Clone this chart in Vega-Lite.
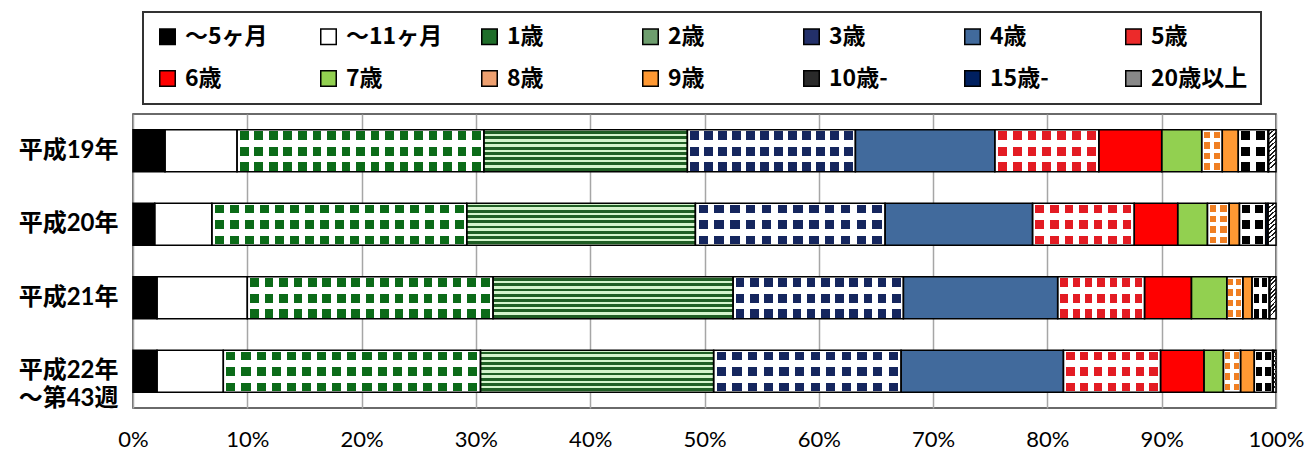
{
  "$schema": "https://vega.github.io/schema/vega-lite/v6.json",
  "width": 1143,
  "height": 294,
  "autosize": {"type": "none"},
  "padding": {"left": 133, "top": 114, "right": 33, "bottom": 55},
  "background": "#ffffff",
  "config": {
    "view": {"stroke": "#3a3a3a", "strokeWidth": 1.5},
    "legend": {"strokeWidth": 2}
  },
  "data": {
    "values": [
      {"year": "平成19年", "age": "～5ヶ月", "value": 2.8},
      {"year": "平成19年", "age": "～11ヶ月", "value": 6.3},
      {"year": "平成19年", "age": "1歳", "value": 21.6},
      {"year": "平成19年", "age": "2歳", "value": 17.8},
      {"year": "平成19年", "age": "3歳", "value": 14.7},
      {"year": "平成19年", "age": "4歳", "value": 12.2},
      {"year": "平成19年", "age": "5歳", "value": 9.1},
      {"year": "平成19年", "age": "6歳", "value": 5.5},
      {"year": "平成19年", "age": "7歳", "value": 3.5},
      {"year": "平成19年", "age": "8歳", "value": 1.8},
      {"year": "平成19年", "age": "9歳", "value": 1.4},
      {"year": "平成19年", "age": "10歳-", "value": 2.6},
      {"year": "平成19年", "age": "15歳-", "value": 0.05},
      {"year": "平成19年", "age": "20歳以上", "value": 0.65},
      {"year": "平成20年", "age": "～5ヶ月", "value": 1.9},
      {"year": "平成20年", "age": "～11ヶ月", "value": 5.0},
      {"year": "平成20年", "age": "1歳", "value": 22.3},
      {"year": "平成20年", "age": "2歳", "value": 20.0},
      {"year": "平成20年", "age": "3歳", "value": 16.6},
      {"year": "平成20年", "age": "4歳", "value": 12.9},
      {"year": "平成20年", "age": "5歳", "value": 8.9},
      {"year": "平成20年", "age": "6歳", "value": 3.8},
      {"year": "平成20年", "age": "7歳", "value": 2.6},
      {"year": "平成20年", "age": "8歳", "value": 1.9},
      {"year": "平成20年", "age": "9歳", "value": 0.9},
      {"year": "平成20年", "age": "10歳-", "value": 2.3},
      {"year": "平成20年", "age": "15歳-", "value": 0.2},
      {"year": "平成20年", "age": "20歳以上", "value": 0.7},
      {"year": "平成21年", "age": "～5ヶ月", "value": 2.1},
      {"year": "平成21年", "age": "～11ヶ月", "value": 7.9},
      {"year": "平成21年", "age": "1歳", "value": 21.5},
      {"year": "平成21年", "age": "2歳", "value": 21.0},
      {"year": "平成21年", "age": "3歳", "value": 14.9},
      {"year": "平成21年", "age": "4歳", "value": 13.5},
      {"year": "平成21年", "age": "5歳", "value": 7.6},
      {"year": "平成21年", "age": "6歳", "value": 4.1},
      {"year": "平成21年", "age": "7歳", "value": 3.1},
      {"year": "平成21年", "age": "8歳", "value": 1.4},
      {"year": "平成21年", "age": "9歳", "value": 0.8},
      {"year": "平成21年", "age": "10歳-", "value": 1.5},
      {"year": "平成21年", "age": "15歳-", "value": 0.05},
      {"year": "平成21年", "age": "20歳以上", "value": 0.55},
      {"year": "平成22年 ～第43週", "age": "～5ヶ月", "value": 2.1},
      {"year": "平成22年 ～第43週", "age": "～11ヶ月", "value": 5.8},
      {"year": "平成22年 ～第43週", "age": "1歳", "value": 22.5},
      {"year": "平成22年 ～第43週", "age": "2歳", "value": 20.4},
      {"year": "平成22年 ～第43週", "age": "3歳", "value": 16.4},
      {"year": "平成22年 ～第43週", "age": "4歳", "value": 14.2},
      {"year": "平成22年 ～第43週", "age": "5歳", "value": 8.5},
      {"year": "平成22年 ～第43週", "age": "6歳", "value": 3.8},
      {"year": "平成22年 ～第43週", "age": "7歳", "value": 1.7},
      {"year": "平成22年 ～第43週", "age": "8歳", "value": 1.5},
      {"year": "平成22年 ～第43週", "age": "9歳", "value": 1.2},
      {"year": "平成22年 ～第43週", "age": "10歳-", "value": 1.6},
      {"year": "平成22年 ～第43週", "age": "15歳-", "value": 0.05},
      {"year": "平成22年 ～第43週", "age": "20歳以上", "value": 0.25}
    ]
  },
  "transform": [
    {"stack": "value", "groupby": ["year"], "offset": "normalize", "as": ["v0", "v1"]}
  ],
  "encoding": {
    "y": {
      "field": "year",
      "type": "nominal",
      "sort": null,
      "title": null,
      "scale": {"paddingInner": 0.43, "paddingOuter": 0.215},
      "axis": {
        "domain": false,
        "ticks": false,
        "labelPadding": 15,
        "labelFont": "Lato, Noto Sans CJK JP",
        "labelFontWeight": "bold",
        "labelFontSize": 24,
        "labelColor": "#000000",
        "labelLineHeight": 28,
        "labelLimit": 200,
        "labelExpr": "split(datum.label, ' ')"
      }
    },
    "x": {
      "field": "v0",
      "type": "quantitative",
      "title": null,
      "scale": {"domain": [0, 1], "nice": false, "zero": true},
      "axis": {
        "values": [0, 0.1, 0.2, 0.3, 0.4, 0.5, 0.6, 0.7, 0.8, 0.9, 1],
        "format": ".0%",
        "domain": false,
        "ticks": false,
        "grid": true,
        "gridColor": "#a6a6a6",
        "gridWidth": 1.5,
        "labelPadding": 21,
        "labelFont": "Lato",
        "labelFontSize": 22,
        "labelColor": "#000000",
        "labelFlush": false
      }
    },
    "x2": {"field": "v1"}
  },
  "layer": [
    {
      "mark": {"type": "bar", "opacity": 1},
      "encoding": {
        "color": {
          "field": "age",
          "type": "nominal",
          "scale": {
            "domain": ["～5ヶ月", "～11ヶ月", "1歳", "2歳", "3歳", "4歳", "5歳", "6歳", "7歳", "8歳", "9歳", "10歳-", "15歳-", "20歳以上"],
            "range": ["#000000", "#ffffff", "#1f6e2a", "#6e9e6e", "#23306a", "#416a9c", "#ec2a2a", "#ff0000", "#92d050", "#eea070", "#ff9933", "#2a2a2a", "#002060", "#888888"]
          },
          "legend": {
            "orient": "none",
            "direction": "horizontal",
            "legendX": 10,
            "legendY": -102,
            "title": null,
            "columns": 7,
            "gridAlign": "all",
            "columnPadding": 35,
            "rowPadding": 18,
            "padding": 13,
            "strokeColor": "#333333",
            "labelFont": "Noto Sans CJK JP",
            "labelFontWeight": "bold",
            "labelFontSize": 23,
            "labelColor": "#000000",
            "labelLimit": 300,
            "labelOffset": 6,
            "symbolType": "square",
            "symbolSize": 240,
            "symbolStrokeColor": "#000000",
            "symbolStrokeWidth": 1.5,
            "symbolOpacity": 1
          }
        }
      }
    },
    {
      "transform": [{"filter": "datum.age === '1歳'"}],
      "mark": {"type": "bar", "fill": {"gradient": "linear", "x1": 0, "y1": 0, "x2": 0, "y2": 1, "stops": [
        {"offset": 0, "color": "#ffffff"}, {"offset": 0.03, "color": "#ffffff"}, {"offset": 0.03, "color": "#0b6b18"}, {"offset": 0.24, "color": "#0b6b18"}, {"offset": 0.24, "color": "#ffffff"}, {"offset": 0.41, "color": "#ffffff"}, {"offset": 0.41, "color": "#0b6b18"}, {"offset": 0.62, "color": "#0b6b18"}, {"offset": 0.62, "color": "#ffffff"}, {"offset": 0.77, "color": "#ffffff"}, {"offset": 0.77, "color": "#0b6b18"}, {"offset": 0.98, "color": "#0b6b18"}, {"offset": 0.98, "color": "#ffffff"}, {"offset": 1, "color": "#ffffff"}]}}
    },
    {
      "transform": [{"filter": "datum.age === '1歳'"}],
      "mark": {"type": "bar", "fill": {"gradient": "linear", "x1": 0, "y1": 0, "x2": 1, "y2": 0, "stops": [
        {"offset": 0, "color": "#ffffff"},
        {"offset": 0.0118, "color": "#ffffff"}, {"offset": 0.0118, "color": "rgba(255,255,255,0)"}, {"offset": 0.0471, "color": "rgba(255,255,255,0)"}, {"offset": 0.0471, "color": "#ffffff"},
        {"offset": 0.0706, "color": "#ffffff"}, {"offset": 0.0706, "color": "rgba(255,255,255,0)"}, {"offset": 0.1059, "color": "rgba(255,255,255,0)"}, {"offset": 0.1059, "color": "#ffffff"},
        {"offset": 0.1294, "color": "#ffffff"}, {"offset": 0.1294, "color": "rgba(255,255,255,0)"}, {"offset": 0.1647, "color": "rgba(255,255,255,0)"}, {"offset": 0.1647, "color": "#ffffff"},
        {"offset": 0.1882, "color": "#ffffff"}, {"offset": 0.1882, "color": "rgba(255,255,255,0)"}, {"offset": 0.2235, "color": "rgba(255,255,255,0)"}, {"offset": 0.2235, "color": "#ffffff"},
        {"offset": 0.2471, "color": "#ffffff"}, {"offset": 0.2471, "color": "rgba(255,255,255,0)"}, {"offset": 0.2824, "color": "rgba(255,255,255,0)"}, {"offset": 0.2824, "color": "#ffffff"},
        {"offset": 0.3059, "color": "#ffffff"}, {"offset": 0.3059, "color": "rgba(255,255,255,0)"}, {"offset": 0.3412, "color": "rgba(255,255,255,0)"}, {"offset": 0.3412, "color": "#ffffff"},
        {"offset": 0.3647, "color": "#ffffff"}, {"offset": 0.3647, "color": "rgba(255,255,255,0)"}, {"offset": 0.4, "color": "rgba(255,255,255,0)"}, {"offset": 0.4, "color": "#ffffff"},
        {"offset": 0.4235, "color": "#ffffff"}, {"offset": 0.4235, "color": "rgba(255,255,255,0)"}, {"offset": 0.4588, "color": "rgba(255,255,255,0)"}, {"offset": 0.4588, "color": "#ffffff"},
        {"offset": 0.4824, "color": "#ffffff"}, {"offset": 0.4824, "color": "rgba(255,255,255,0)"}, {"offset": 0.5176, "color": "rgba(255,255,255,0)"}, {"offset": 0.5176, "color": "#ffffff"},
        {"offset": 0.5412, "color": "#ffffff"}, {"offset": 0.5412, "color": "rgba(255,255,255,0)"}, {"offset": 0.5765, "color": "rgba(255,255,255,0)"}, {"offset": 0.5765, "color": "#ffffff"},
        {"offset": 0.6, "color": "#ffffff"}, {"offset": 0.6, "color": "rgba(255,255,255,0)"}, {"offset": 0.6353, "color": "rgba(255,255,255,0)"}, {"offset": 0.6353, "color": "#ffffff"},
        {"offset": 0.6588, "color": "#ffffff"}, {"offset": 0.6588, "color": "rgba(255,255,255,0)"}, {"offset": 0.6941, "color": "rgba(255,255,255,0)"}, {"offset": 0.6941, "color": "#ffffff"},
        {"offset": 0.7176, "color": "#ffffff"}, {"offset": 0.7176, "color": "rgba(255,255,255,0)"}, {"offset": 0.7529, "color": "rgba(255,255,255,0)"}, {"offset": 0.7529, "color": "#ffffff"},
        {"offset": 0.7765, "color": "#ffffff"}, {"offset": 0.7765, "color": "rgba(255,255,255,0)"}, {"offset": 0.8118, "color": "rgba(255,255,255,0)"}, {"offset": 0.8118, "color": "#ffffff"},
        {"offset": 0.8353, "color": "#ffffff"}, {"offset": 0.8353, "color": "rgba(255,255,255,0)"}, {"offset": 0.8706, "color": "rgba(255,255,255,0)"}, {"offset": 0.8706, "color": "#ffffff"},
        {"offset": 0.8941, "color": "#ffffff"}, {"offset": 0.8941, "color": "rgba(255,255,255,0)"}, {"offset": 0.9294, "color": "rgba(255,255,255,0)"}, {"offset": 0.9294, "color": "#ffffff"},
        {"offset": 0.9529, "color": "#ffffff"}, {"offset": 0.9529, "color": "rgba(255,255,255,0)"}, {"offset": 0.9882, "color": "rgba(255,255,255,0)"}, {"offset": 0.9882, "color": "#ffffff"},
        {"offset": 1, "color": "#ffffff"}]}}
    },
    {
      "transform": [{"filter": "datum.age === '2歳'"}],
      "mark": {"type": "bar", "fill": {"gradient": "linear", "x1": 0, "y1": 0, "x2": 0, "y2": 1, "stops": [
        {"offset": 0, "color": "#d4f4cc"},
        {"offset": 0.03, "color": "#d4f4cc"}, {"offset": 0.03, "color": "#1f5e24"}, {"offset": 0.10, "color": "#1f5e24"}, {"offset": 0.10, "color": "#d4f4cc"},
        {"offset": 0.155, "color": "#d4f4cc"}, {"offset": 0.155, "color": "#1f5e24"}, {"offset": 0.225, "color": "#1f5e24"}, {"offset": 0.225, "color": "#d4f4cc"},
        {"offset": 0.28, "color": "#d4f4cc"}, {"offset": 0.28, "color": "#1f5e24"}, {"offset": 0.35, "color": "#1f5e24"}, {"offset": 0.35, "color": "#d4f4cc"},
        {"offset": 0.405, "color": "#d4f4cc"}, {"offset": 0.405, "color": "#1f5e24"}, {"offset": 0.475, "color": "#1f5e24"}, {"offset": 0.475, "color": "#d4f4cc"},
        {"offset": 0.53, "color": "#d4f4cc"}, {"offset": 0.53, "color": "#1f5e24"}, {"offset": 0.60, "color": "#1f5e24"}, {"offset": 0.60, "color": "#d4f4cc"},
        {"offset": 0.655, "color": "#d4f4cc"}, {"offset": 0.655, "color": "#1f5e24"}, {"offset": 0.725, "color": "#1f5e24"}, {"offset": 0.725, "color": "#d4f4cc"},
        {"offset": 0.78, "color": "#d4f4cc"}, {"offset": 0.78, "color": "#1f5e24"}, {"offset": 0.85, "color": "#1f5e24"}, {"offset": 0.85, "color": "#d4f4cc"},
        {"offset": 0.905, "color": "#d4f4cc"}, {"offset": 0.905, "color": "#1f5e24"}, {"offset": 0.975, "color": "#1f5e24"}, {"offset": 0.975, "color": "#d4f4cc"},
        {"offset": 1, "color": "#d4f4cc"}]}}
    },
    {
      "transform": [{"filter": "datum.age === '3歳'"}],
      "mark": {"type": "bar", "fill": {"gradient": "linear", "x1": 0, "y1": 0, "x2": 0, "y2": 1, "stops": [
        {"offset": 0, "color": "#ffffff"}, {"offset": 0.03, "color": "#ffffff"}, {"offset": 0.03, "color": "#15265e"}, {"offset": 0.24, "color": "#15265e"}, {"offset": 0.24, "color": "#ffffff"}, {"offset": 0.41, "color": "#ffffff"}, {"offset": 0.41, "color": "#15265e"}, {"offset": 0.62, "color": "#15265e"}, {"offset": 0.62, "color": "#ffffff"}, {"offset": 0.77, "color": "#ffffff"}, {"offset": 0.77, "color": "#15265e"}, {"offset": 0.98, "color": "#15265e"}, {"offset": 0.98, "color": "#ffffff"}, {"offset": 1, "color": "#ffffff"}]}}
    },
    {
      "transform": [{"filter": "datum.age === '3歳'"}],
      "mark": {"type": "bar", "fill": {"gradient": "linear", "x1": 0, "y1": 0, "x2": 1, "y2": 0, "stops": [
        {"offset": 0, "color": "#ffffff"},
        {"offset": 0.0167, "color": "#ffffff"}, {"offset": 0.0167, "color": "rgba(255,255,255,0)"}, {"offset": 0.0667, "color": "rgba(255,255,255,0)"}, {"offset": 0.0667, "color": "#ffffff"},
        {"offset": 0.1, "color": "#ffffff"}, {"offset": 0.1, "color": "rgba(255,255,255,0)"}, {"offset": 0.15, "color": "rgba(255,255,255,0)"}, {"offset": 0.15, "color": "#ffffff"},
        {"offset": 0.1833, "color": "#ffffff"}, {"offset": 0.1833, "color": "rgba(255,255,255,0)"}, {"offset": 0.2333, "color": "rgba(255,255,255,0)"}, {"offset": 0.2333, "color": "#ffffff"},
        {"offset": 0.2667, "color": "#ffffff"}, {"offset": 0.2667, "color": "rgba(255,255,255,0)"}, {"offset": 0.3167, "color": "rgba(255,255,255,0)"}, {"offset": 0.3167, "color": "#ffffff"},
        {"offset": 0.35, "color": "#ffffff"}, {"offset": 0.35, "color": "rgba(255,255,255,0)"}, {"offset": 0.4, "color": "rgba(255,255,255,0)"}, {"offset": 0.4, "color": "#ffffff"},
        {"offset": 0.4333, "color": "#ffffff"}, {"offset": 0.4333, "color": "rgba(255,255,255,0)"}, {"offset": 0.4833, "color": "rgba(255,255,255,0)"}, {"offset": 0.4833, "color": "#ffffff"},
        {"offset": 0.5167, "color": "#ffffff"}, {"offset": 0.5167, "color": "rgba(255,255,255,0)"}, {"offset": 0.5667, "color": "rgba(255,255,255,0)"}, {"offset": 0.5667, "color": "#ffffff"},
        {"offset": 0.6, "color": "#ffffff"}, {"offset": 0.6, "color": "rgba(255,255,255,0)"}, {"offset": 0.65, "color": "rgba(255,255,255,0)"}, {"offset": 0.65, "color": "#ffffff"},
        {"offset": 0.6833, "color": "#ffffff"}, {"offset": 0.6833, "color": "rgba(255,255,255,0)"}, {"offset": 0.7333, "color": "rgba(255,255,255,0)"}, {"offset": 0.7333, "color": "#ffffff"},
        {"offset": 0.7667, "color": "#ffffff"}, {"offset": 0.7667, "color": "rgba(255,255,255,0)"}, {"offset": 0.8167, "color": "rgba(255,255,255,0)"}, {"offset": 0.8167, "color": "#ffffff"},
        {"offset": 0.85, "color": "#ffffff"}, {"offset": 0.85, "color": "rgba(255,255,255,0)"}, {"offset": 0.9, "color": "rgba(255,255,255,0)"}, {"offset": 0.9, "color": "#ffffff"},
        {"offset": 0.9333, "color": "#ffffff"}, {"offset": 0.9333, "color": "rgba(255,255,255,0)"}, {"offset": 0.9833, "color": "rgba(255,255,255,0)"}, {"offset": 0.9833, "color": "#ffffff"},
        {"offset": 1, "color": "#ffffff"}]}}
    },
    {
      "transform": [{"filter": "datum.age === '5歳'"}],
      "mark": {"type": "bar", "fill": {"gradient": "linear", "x1": 0, "y1": 0, "x2": 0, "y2": 1, "stops": [
        {"offset": 0, "color": "#ffffff"}, {"offset": 0.03, "color": "#ffffff"}, {"offset": 0.03, "color": "#e31b23"}, {"offset": 0.24, "color": "#e31b23"}, {"offset": 0.24, "color": "#ffffff"}, {"offset": 0.41, "color": "#ffffff"}, {"offset": 0.41, "color": "#e31b23"}, {"offset": 0.62, "color": "#e31b23"}, {"offset": 0.62, "color": "#ffffff"}, {"offset": 0.77, "color": "#ffffff"}, {"offset": 0.77, "color": "#e31b23"}, {"offset": 0.98, "color": "#e31b23"}, {"offset": 0.98, "color": "#ffffff"}, {"offset": 1, "color": "#ffffff"}]}}
    },
    {
      "transform": [{"filter": "datum.age === '5歳'"}],
      "mark": {"type": "bar", "fill": {"gradient": "linear", "x1": 0, "y1": 0, "x2": 1, "y2": 0, "stops": [
        {"offset": 0, "color": "#ffffff"},
        {"offset": 0.0286, "color": "#ffffff"}, {"offset": 0.0286, "color": "rgba(255,255,255,0)"}, {"offset": 0.1143, "color": "rgba(255,255,255,0)"}, {"offset": 0.1143, "color": "#ffffff"},
        {"offset": 0.1714, "color": "#ffffff"}, {"offset": 0.1714, "color": "rgba(255,255,255,0)"}, {"offset": 0.2571, "color": "rgba(255,255,255,0)"}, {"offset": 0.2571, "color": "#ffffff"},
        {"offset": 0.3143, "color": "#ffffff"}, {"offset": 0.3143, "color": "rgba(255,255,255,0)"}, {"offset": 0.4, "color": "rgba(255,255,255,0)"}, {"offset": 0.4, "color": "#ffffff"},
        {"offset": 0.4571, "color": "#ffffff"}, {"offset": 0.4571, "color": "rgba(255,255,255,0)"}, {"offset": 0.5429, "color": "rgba(255,255,255,0)"}, {"offset": 0.5429, "color": "#ffffff"},
        {"offset": 0.6, "color": "#ffffff"}, {"offset": 0.6, "color": "rgba(255,255,255,0)"}, {"offset": 0.6857, "color": "rgba(255,255,255,0)"}, {"offset": 0.6857, "color": "#ffffff"},
        {"offset": 0.7429, "color": "#ffffff"}, {"offset": 0.7429, "color": "rgba(255,255,255,0)"}, {"offset": 0.8286, "color": "rgba(255,255,255,0)"}, {"offset": 0.8286, "color": "#ffffff"},
        {"offset": 0.8857, "color": "#ffffff"}, {"offset": 0.8857, "color": "rgba(255,255,255,0)"}, {"offset": 0.9714, "color": "rgba(255,255,255,0)"}, {"offset": 0.9714, "color": "#ffffff"},
        {"offset": 1, "color": "#ffffff"}]}}
    },
    {
      "transform": [{"filter": "datum.age === '8歳'"}],
      "mark": {"type": "bar", "fill": {"gradient": "linear", "x1": 0, "y1": 0, "x2": 0, "y2": 1, "stops": [
        {"offset": 0, "color": "#ffffff"}, {"offset": 0.05, "color": "#ffffff"}, {"offset": 0.05, "color": "#f07f22"}, {"offset": 0.2, "color": "#f07f22"}, {"offset": 0.2, "color": "#ffffff"}, {"offset": 0.3, "color": "#ffffff"}, {"offset": 0.3, "color": "#f07f22"}, {"offset": 0.45, "color": "#f07f22"}, {"offset": 0.45, "color": "#ffffff"}, {"offset": 0.55, "color": "#ffffff"}, {"offset": 0.55, "color": "#f07f22"}, {"offset": 0.7, "color": "#f07f22"}, {"offset": 0.7, "color": "#ffffff"}, {"offset": 0.8, "color": "#ffffff"}, {"offset": 0.8, "color": "#f07f22"}, {"offset": 0.95, "color": "#f07f22"}, {"offset": 0.95, "color": "#ffffff"}, {"offset": 1, "color": "#ffffff"}]}}
    },
    {
      "transform": [{"filter": "datum.age === '8歳'"}],
      "mark": {"type": "bar", "fill": {"gradient": "linear", "x1": 0, "y1": 0, "x2": 1, "y2": 0, "stops": [
        {"offset": 0, "color": "#ffffff"},
        {"offset": 0.1, "color": "#ffffff"}, {"offset": 0.1, "color": "rgba(255,255,255,0)"}, {"offset": 0.4, "color": "rgba(255,255,255,0)"}, {"offset": 0.4, "color": "#ffffff"},
        {"offset": 0.6, "color": "#ffffff"}, {"offset": 0.6, "color": "rgba(255,255,255,0)"}, {"offset": 0.9, "color": "rgba(255,255,255,0)"}, {"offset": 0.9, "color": "#ffffff"},
        {"offset": 1, "color": "#ffffff"}]}}
    },
    {
      "transform": [{"filter": "datum.age === '10歳-'"}],
      "mark": {"type": "bar", "fill": {"gradient": "linear", "x1": 0, "y1": 0, "x2": 0, "y2": 1, "stops": [
        {"offset": 0, "color": "#ffffff"}, {"offset": 0.03, "color": "#ffffff"}, {"offset": 0.03, "color": "#000000"}, {"offset": 0.24, "color": "#000000"}, {"offset": 0.24, "color": "#ffffff"}, {"offset": 0.41, "color": "#ffffff"}, {"offset": 0.41, "color": "#000000"}, {"offset": 0.62, "color": "#000000"}, {"offset": 0.62, "color": "#ffffff"}, {"offset": 0.77, "color": "#ffffff"}, {"offset": 0.77, "color": "#000000"}, {"offset": 0.98, "color": "#000000"}, {"offset": 0.98, "color": "#ffffff"}, {"offset": 1, "color": "#ffffff"}]}}
    },
    {
      "transform": [{"filter": "datum.age === '10歳-'"}],
      "mark": {"type": "bar", "fill": {"gradient": "linear", "x1": 0, "y1": 0, "x2": 1, "y2": 0, "stops": [
        {"offset": 0, "color": "#ffffff"},
        {"offset": 0.1, "color": "#ffffff"}, {"offset": 0.1, "color": "rgba(255,255,255,0)"}, {"offset": 0.4, "color": "rgba(255,255,255,0)"}, {"offset": 0.4, "color": "#ffffff"},
        {"offset": 0.6, "color": "#ffffff"}, {"offset": 0.6, "color": "rgba(255,255,255,0)"}, {"offset": 0.9, "color": "rgba(255,255,255,0)"}, {"offset": 0.9, "color": "#ffffff"},
        {"offset": 1, "color": "#ffffff"}]}}
    },
    {
      "transform": [{"filter": "datum.age === '20歳以上'"}],
      "mark": {"type": "bar", "fill": {"gradient": "linear", "x1": 0, "y1": 0, "x2": 0.16, "y2": 1, "stops": [
        {"offset": 0, "color": "#1a1a1a"}, {"offset": 0.04, "color": "#1a1a1a"}, {"offset": 0.04, "color": "#ffffff"},
        {"offset": 0.1, "color": "#ffffff"}, {"offset": 0.1, "color": "#1a1a1a"}, {"offset": 0.14, "color": "#1a1a1a"}, {"offset": 0.14, "color": "#ffffff"},
        {"offset": 0.2, "color": "#ffffff"}, {"offset": 0.2, "color": "#1a1a1a"}, {"offset": 0.24, "color": "#1a1a1a"}, {"offset": 0.24, "color": "#ffffff"},
        {"offset": 0.3, "color": "#ffffff"}, {"offset": 0.3, "color": "#1a1a1a"}, {"offset": 0.34, "color": "#1a1a1a"}, {"offset": 0.34, "color": "#ffffff"},
        {"offset": 0.4, "color": "#ffffff"}, {"offset": 0.4, "color": "#1a1a1a"}, {"offset": 0.44, "color": "#1a1a1a"}, {"offset": 0.44, "color": "#ffffff"},
        {"offset": 0.5, "color": "#ffffff"}, {"offset": 0.5, "color": "#1a1a1a"}, {"offset": 0.54, "color": "#1a1a1a"}, {"offset": 0.54, "color": "#ffffff"},
        {"offset": 0.6, "color": "#ffffff"}, {"offset": 0.6, "color": "#1a1a1a"}, {"offset": 0.64, "color": "#1a1a1a"}, {"offset": 0.64, "color": "#ffffff"},
        {"offset": 0.7, "color": "#ffffff"}, {"offset": 0.7, "color": "#1a1a1a"}, {"offset": 0.74, "color": "#1a1a1a"}, {"offset": 0.74, "color": "#ffffff"},
        {"offset": 0.8, "color": "#ffffff"}, {"offset": 0.8, "color": "#1a1a1a"}, {"offset": 0.84, "color": "#1a1a1a"}, {"offset": 0.84, "color": "#ffffff"},
        {"offset": 0.9, "color": "#ffffff"}, {"offset": 0.9, "color": "#1a1a1a"}, {"offset": 0.94, "color": "#1a1a1a"}, {"offset": 0.94, "color": "#ffffff"},
        {"offset": 1, "color": "#ffffff"}]}}
    },
    {
      "mark": {"type": "bar", "fillOpacity": 0, "stroke": "#000000", "strokeWidth": 1.5}
    }
  ]
}
